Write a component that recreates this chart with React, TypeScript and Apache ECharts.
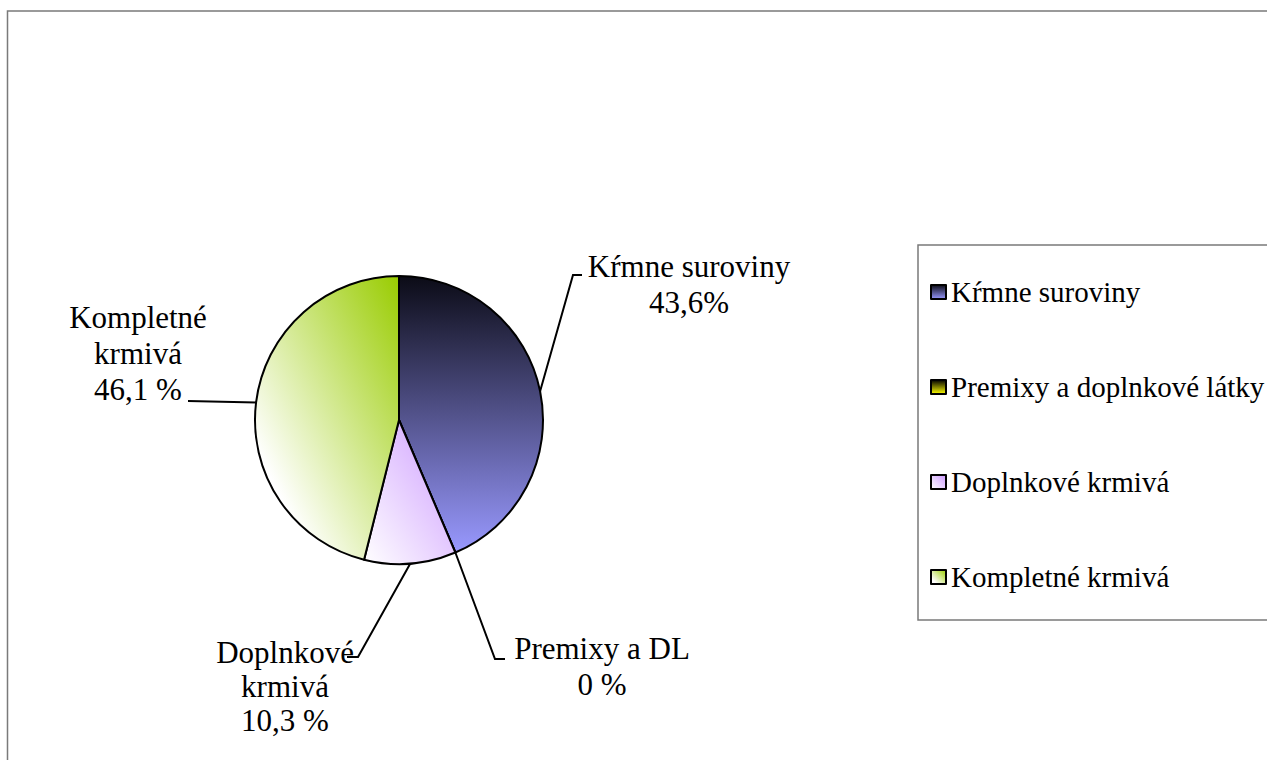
import React, { useEffect, useRef } from "react";
import * as echarts from "echarts";

const categories = ["Kŕmne suroviny", "Premixy a doplnkové látky", "Doplnkové krmivá", "Kompletné krmivá"];
const labelNames = ["Kŕmne suroviny", "Premixy a DL", "Doplnkové\nkrmivá", "Kompletné\nkrmivá"];
const values = [43.6, 0, 10.3, 46.1];
const pctSeparators = ["", " ", " ", " "];

const FONT = "Liberation Serif";

const sliceColors = [
  { x: 0, y: 0, x2: 0, y2: 1, stops: [[0, "#0b0b16"], [1, "#9999ff"]] },
  { x: 0, y: 0, x2: 0, y2: 1, stops: [[0, "#000000"], [1, "#ffff00"]] },
  { x: 1, y: 0, x2: 0, y2: 1, stops: [[0, "#cc99ff"], [1, "#ffffff"]] },
  { x: 1, y: 0, x2: 0, y2: 1, stops: [[0, "#99cc00"], [0.8, "#ffffff"], [1, "#ffffff"]] },
];

function grad(c: any) {
  return new echarts.graphic.LinearGradient(
    c.x,
    c.y,
    c.x2,
    c.y2,
    c.stops.map((s: any) => ({ offset: s[0], color: s[1] }))
  );
}

function fmt(v: number, i: number) {
  const s = v === 0 ? "0" : v.toFixed(1).replace(".", ",");
  return s + pctSeparators[i] + "%";
}

// label placement (page pixels)
const labelPos = [
  { x: 689, y: 248, corner: [573, 275], end: [582, 275], lh: 36 },
  { x: 602, y: 630, corner: [495, 659], end: [505, 659], lh: 36 },
  { x: 285, y: 635, corner: [358, 657], end: [347, 657], lh: 34 },
  { x: 138, y: 299, corner: [188, 401], end: [188, 401], lh: 36 },
];

const CENTER = [399, 420];
const RADIUS = 144;

export default function App() {
  const ref = useRef<HTMLDivElement>(null);
  useEffect(() => {
    if (!ref.current) return;
    const chart = echarts.init(ref.current, null, { renderer: "svg" });
    const total = values.reduce((a, b) => a + b, 0);
    const data = categories.map((name, i) => ({
      name,
      value: values[i],
      itemStyle: { color: grad(sliceColors[i]) },
      label: {
        formatter: labelNames[i] + "\n" + fmt(values[i], i),
        lineHeight: labelPos[i].lh,
      },
    }));
    chart.setOption({
      animation: false,
      graphic: [
        {
          type: "rect",
          shape: { x: 7.5, y: 11, width: 1400, height: 900 },
          style: { fill: "none", stroke: "#7a7a7a", lineWidth: 1.5 },
          silent: true,
          z: 0,
        },
      ],
      legend: {
        orient: "vertical",
        left: 918,
        top: 245,
        padding: [32, 60, 28, 12],
        itemGap: 65,
        itemWidth: 15,
        itemHeight: 14,
        icon: "rect",
        borderColor: "#7a7a7a",
        borderWidth: 1.5,
        selectedMode: false,
        textStyle: { fontFamily: FONT, fontSize: 29, lineHeight: 30, color: "#000" },
        data: categories.map((name, i) => ({
          name,
          itemStyle: { color: grad(sliceColors[i]), borderColor: "#000", borderWidth: 2 },
        })),
      },
      series: [
        {
          type: "pie",
          center: CENTER,
          radius: RADIUS,
          startAngle: 90,
          clockwise: true,
          avoidLabelOverlap: false,
          silent: true,
          emphasis: { disabled: true },
          itemStyle: { borderColor: "#000", borderWidth: 2 },
          label: {
            show: true,
            position: "outside",
            color: "#000",
            fontFamily: FONT,
            fontSize: 31,
            align: "center",
          },
          labelLine: {
            show: true,
            length: 20,
            length2: 10,
            lineStyle: { color: "#000", width: 2 },
          },
          labelLayout: (params: any) => {
            const i = params.dataIndex;
            const p = labelPos[i];
            let start = params.labelLinePoints && params.labelLinePoints[0];
            if (!start) {
              let cum = 0;
              for (let k = 0; k < i; k++) cum += values[k];
              const mid = ((cum + values[i] / 2) / total) * Math.PI * 2;
              start = [CENTER[0] + RADIUS * Math.sin(mid), CENTER[1] - RADIUS * Math.cos(mid)];
            }
            return {
              x: p.x,
              y: p.y,
              align: "center",
              verticalAlign: "top",
              labelLinePoints: [start, p.corner, p.end],
            };
          },
          data,
        },
      ],
    });
    return () => chart.dispose();
  }, []);
  return (
    <div
      ref={ref}
      style={{ position: "absolute", left: 0, top: 0, width: 1267, height: 760, background: "#fff" }}
    />
  );
}
